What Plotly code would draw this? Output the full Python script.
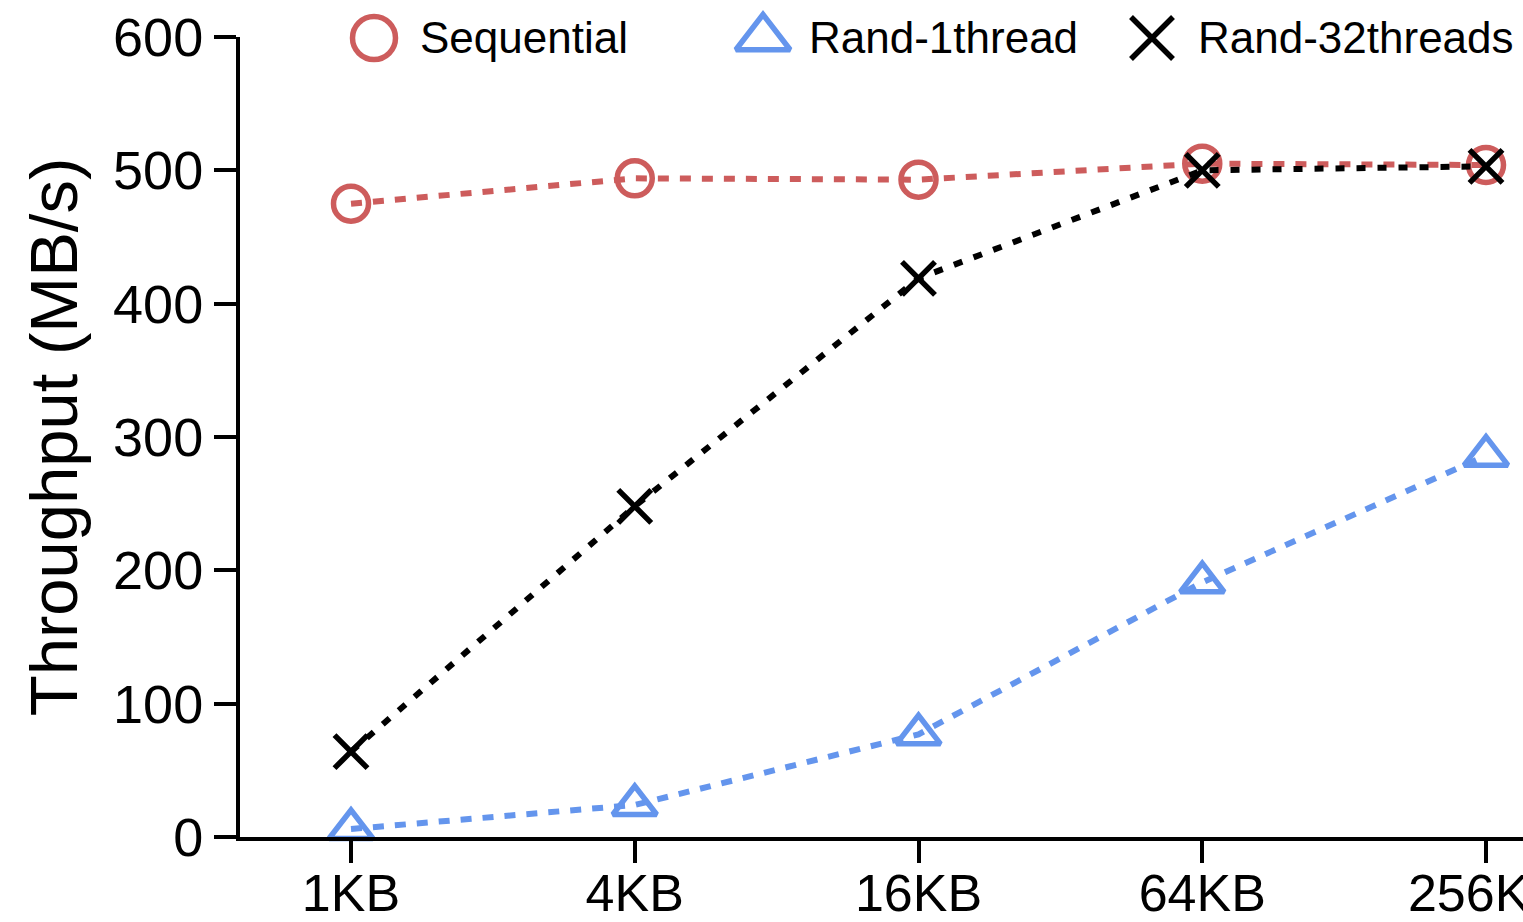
import plotly.graph_objects as go

categories = ["1KB", "4KB", "16KB", "64KB", "256KB"]
sequential = [475, 494, 493, 505, 504]
rand_1thread = [6, 24, 77, 191, 286]
rand_32threads = [64, 248, 419, 500, 503]
y_ticks = [0, 100, 200, 300, 400, 500, 600]

FONT = "Liberation Sans, Arial, Helvetica, sans-serif"
RED = "#CD5C5C"
BLUE = "#6495ED"
BLACK = "#000000"

W, H = 1523, 922
ML, MR, MT, MB = 240, 0, 37, 85

series = [
    ("Sequential", sequential, RED, "circle-open", 35, "11px,11px"),
    ("Rand-1thread", rand_1thread, BLUE, "triangle-up-open", 38, "11px,11px"),
    ("Rand-32threads", rand_32threads, BLACK, "x-thin-open", 33, "9px,12px"),
]

xs = list(range(len(categories)))
fig = go.Figure()
for name, vals, color, sym, size, dash in series:
    fig.add_trace(go.Scatter(
        x=xs, y=vals, name=name, mode="lines+markers",
        line=dict(color=color, width=6, dash=dash),
        marker=dict(symbol=sym, size=size, color=color,
                    line=dict(color=color, width=5.5)),
        cliponaxis=False, showlegend=False,
    ))

# custom legend (keys on a hidden overlay axis in paper-like units)
pw = W - ML - MR
ph = H - MT - MB
legend_key_px = [374, 763, 1152]
legend_y_px = 38
legend_sizes = {"circle-open": 43, "triangle-up-open": 47, "x-thin-open": 42}
for (name, vals, color, sym, size, dash), kx in zip(series, legend_key_px):
    fx = (kx - ML) / pw
    fy = (H - MB - legend_y_px) / ph
    fig.add_trace(go.Scatter(
        x=[fx], y=[fy], xaxis="x2", yaxis="y2", mode="markers",
        marker=dict(symbol=sym, size=legend_sizes[sym], color=color,
                    line=dict(color=color, width=5.5)),
        cliponaxis=False, showlegend=False, hoverinfo="skip",
    ))
    fig.add_annotation(
        x=fx + 44 / pw, y=fy, xref="paper", yref="paper",
        text=name, showarrow=False, xanchor="left", yanchor="middle",
        font=dict(family=FONT, size=44, color="black"),
    )

xrange = [-(351 - ML) / 283.75, 4 + (W - 1486) / 283.75]

fig.update_layout(
    width=W, height=H,
    margin=dict(l=ML, r=MR, t=MT, b=MB),
    paper_bgcolor="white", plot_bgcolor="white",
    font=dict(family=FONT, color="black"),
    xaxis=dict(
        range=xrange, tickvals=xs, ticktext=categories,
        showgrid=False, zeroline=False, automargin=False,
        showticklabels=False,
        showline=True, linecolor="black", linewidth=4,
        ticks="outside", ticklen=22, tickwidth=4, tickcolor="black",
    ),
    xaxis3=dict(
        range=xrange, tickvals=xs, ticktext=categories,
        overlaying="x", anchor="y", side="bottom",
        showgrid=False, zeroline=False, automargin=False,
        showline=False, ticks="", ticklen=0,
        ticklabeloverflow="allow", ticklabelstandoff=21,
        tickfont=dict(family=FONT, size=52),
    ),
    yaxis=dict(
        range=[0, 600], tickvals=y_ticks,
        showgrid=False, zeroline=False, automargin=False,
        ticklabeloverflow="allow",
        showline=True, linecolor="black", linewidth=4,
        ticks="outside", ticklen=22, tickwidth=4, tickcolor="black",
        tickfont=dict(family=FONT, size=54),
        title=dict(text="Throughput (MB/s)", font=dict(family=FONT, size=67)),
    ),
    xaxis2=dict(range=[0, 1], overlaying="x", visible=False),
    yaxis2=dict(range=[0, 1], overlaying="y", visible=False),
)

# invisible anchor trace so the label axis is rendered
fig.add_trace(go.Scatter(x=[xs[0]], y=[sequential[0]], xaxis="x3", yaxis="y",
                         mode="markers", marker=dict(opacity=0),
                         showlegend=False, hoverinfo="skip"))

fig.write_html("out.html")
